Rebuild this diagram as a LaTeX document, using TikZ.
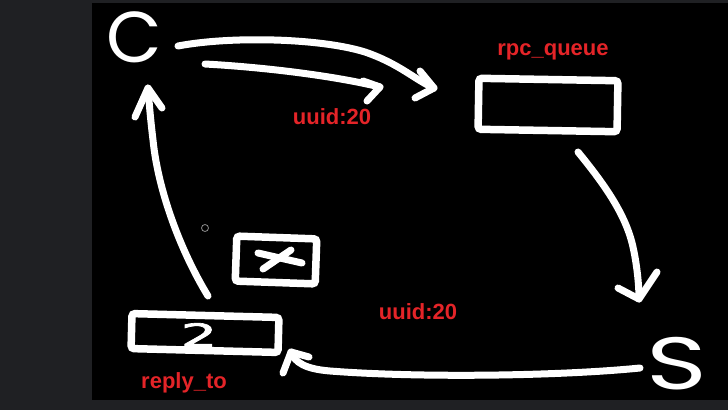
\documentclass[tikz,border=0pt]{standalone}
\usepackage{fontspec}
\setmainfont{Liberation Sans}
\newfontfamily\hand{Poppins}
\newfontfamily\thick[FakeBold=2]{DejaVu Sans}
\definecolor{strip}{RGB}{31,32,35}
\definecolor{lab}{RGB}{228,36,40}
\definecolor{cursor}{RGB}{140,140,140}
\begin{document}
\begin{tikzpicture}[x=1pt,y=-1pt,
  stroke/.style={white, line width=7pt, line cap=round, line join=round},
  qbox/.style={draw=white, line width=7.5pt, rounded corners=3pt, inner sep=0pt},
  lbl/.style={text=lab, font=\fontsize{22}{22}\selectfont\bfseries, inner sep=0pt},
  letter/.style={text=white, inner sep=0pt}]
\fill[strip] (0,0) rectangle (728,410);
\fill[black] (92,3) rectangle (728,400);
\useasboundingbox (0,0) rectangle (728,410);

% letters
\node[letter, font=\hand\fontsize{72}{72}\selectfont] (C) at (134,37) {C};
\node[letter, font=\hand\fontsize{74}{74}\selectfont, xscale=1.4] (S) at (677,364) {S};

% boxes
\node[qbox, minimum width=139pt, minimum height=51pt, rotate=-1] (rpcq) at (548,105) {};
\node[qbox, minimum width=147pt, minimum height=35pt, rotate=-1.5] (reply) at (205,333) {};
\node[qbox, minimum width=80pt, minimum height=45pt, rotate=-2] (xbox) at (276,260) {};
\node[letter, font=\thick\fontsize{32}{32}\selectfont, xscale=1.8] (two) at (199,335) {2};
\draw[stroke] (258,253) -- (302,263);
\draw[stroke] (291,250) -- (263,269);

% labels
\node[lbl] (rpcl) at (553,52) {rpc\_queue};
\node[lbl] (replyl) at (184,383) {reply\_to};
\node[lbl] (uuid1) at (332,117) {uuid:20};
\node[lbl] (uuid2) at (418,312) {uuid:20};

% cursor
\draw[cursor, line width=0.8pt] (205,228) circle (3.5pt);

% arrow C -> rpc_queue (upper)
\coordinate (a1s) at (178,46); \coordinate (a1t) at (434,88);
\draw[stroke] (a1s) .. controls (230,36) and (320,38) .. (365,52) .. controls (400,64) and (415,80) .. (a1t);
\draw[stroke] (420,71) -- (a1t) -- (415,98);

% arrow C -> (lower, short)
\coordinate (a2s) at (205,64); \coordinate (a2t) at (380,87);
\draw[stroke] (a2s) .. controls (260,67) and (330,75) .. (a2t);
\draw[stroke] (363,81) -- (a2t) -- (367,101);

% arrow rpc_queue -> S
\coordinate (a3s) at (578,152); \coordinate (a3t) at (639,299);
\draw[stroke] (a3s) .. controls (605,185) and (626,215) .. (633,247) .. controls (637,265) and (639,285) .. (a3t);
\draw[stroke] (618,288) -- (a3t) -- (657,272);

% arrow S -> reply_to
\coordinate (a4s) at (640,368); \coordinate (a4t) at (291,352);
\draw[stroke] (a4s) .. controls (560,376) and (420,378) .. (330,371) .. controls (306,369) and (295,363) .. (a4t);
\draw[stroke] (309,357) -- (a4t) -- (283,373);

% arrow reply_to -> C
\coordinate (a5s) at (208,296); \coordinate (a5t) at (148,88);
\draw[stroke] (a5s) .. controls (180,250) and (158,190) .. (153,140) .. controls (150,115) and (149,100) .. (a5t);
\draw[stroke] (135,117) -- (a5t) -- (162,108);
\end{tikzpicture}
\end{document}
